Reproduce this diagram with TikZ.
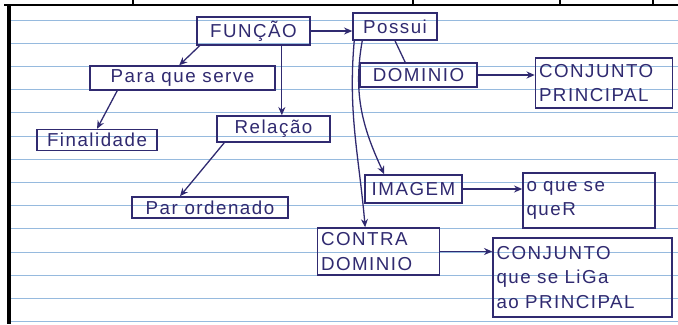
\documentclass[tikz,border=0pt]{standalone}
\usepackage{fontspec}
\setmainfont[LetterSpace=8]{Liberation Sans}
\usetikzlibrary{arrows.meta}
\definecolor{ink}{RGB}{48,42,112}
\definecolor{rule}{RGB}{150,186,222}
\tikzset{
    box/.style={draw=ink, text=ink, line width=1.3pt, inner sep=3pt,
                align=center, font=\fontsize{16}{21}\selectfont},
    tall/.style={box, align=left},
    flow/.style={-{Stealth[length=7pt, width=6pt]}, draw=ink, line width=1.1pt},
    link/.style={draw=ink, line width=1.1pt},
    paper/.style={draw=rule, line width=0.6pt},
}

\begin{document}
\begin{tikzpicture}[x=0.03cm, y=-0.03cm]

    \useasboundingbox (0,0) rectangle (678,324);
    \fill[white] (0,0) rectangle (678,324);
    \foreach \k in {0,...,13}
        \draw[paper] (10,20+23.2*\k) -- (678,20+23.2*\k);
    \draw[line width=2pt] (4,5) -- (678,5);
    \foreach \t in {133,413,560,653}
        \draw[line width=1.2pt] (\t,0) -- (\t,5);
    \draw[line width=3pt] (9,5) -- (9,324);

    \node[box, minimum width=3.39cm, minimum height=0.84cm] (func) at (253.5,31) {FUNÇÃO};
    \node[box, minimum width=2.52cm, minimum height=0.81cm] (possui) at (395,26.5) {Possui};
    \node[box, minimum width=5.55cm, minimum height=0.66cm] (serve) at (182.5,78) {Para que serve};
    \node[box, minimum width=3.51cm, minimum height=0.72cm] (dominio) at (418.5,75) {DOMINIO};
    \node[tall, text width=3.9cm, minimum height=1.5cm] (conjp) at (604,83) {CONJUNTO\\PRINCIPAL};
    \node[box, minimum width=3.6cm, minimum height=0.6cm] (final) at (97,140) {Finalidade};
    \node[box, minimum width=3.39cm, minimum height=0.78cm] (relacao) at (273.5,129) {Relação};
    \node[box, minimum width=4.68cm, minimum height=0.63cm] (par) at (210,207.5) {Par ordenado};
    \node[box, minimum width=2.91cm, minimum height=0.84cm] (imagem) at (413.5,189) {IMAGEM};
    \node[tall, text width=3.75cm, minimum height=1.65cm] (quer) at (589,200.5) {o que se\\queR};
    \node[tall, text width=3.45cm, minimum height=1.41cm] (contra) at (378.5,251.5) {CONTRA\\DOMINIO};
    \node[tall, text width=5.16cm, minimum height=2.37cm] (conjl) at (582.5,277.5) {CONJUNTO\\que se LiGa\\ao PRINCIPAL};

    \draw[flow] (func) -- (func -| possui.west);
    \draw[flow] ([xshift=0.1cm]func.south west) -- ([xshift=-0.1cm]serve.north);
    \draw[flow] ([xshift=0.85cm]func.south) -- ([xshift=0.85cm]func.south |- relacao.north);
    \draw[flow] ([xshift=0.84cm]serve.south west) -- (final.north);
    \draw[flow] ([xshift=0.24cm]relacao.south west) -- ([xshift=-0.9cm]par.north);
    \draw[link] (possui.south) -- ([xshift=-0.4cm]dominio.north);
    \draw[flow] ([xshift=0.3cm]possui.south west) to[out=-100, in=115] ([xshift=0.6cm]imagem.north west);
    \draw[flow] ([xshift=0.06cm]possui.south west) to[out=-95, in=95] ([xshift=-0.4cm]contra.north);
    \draw[flow] (dominio) -- (dominio -| conjp.west);
    \draw[flow] (imagem) -- (imagem -| quer.west);
    \draw[flow] (contra.east) -- (contra.east -| conjl.west);

\end{tikzpicture}
\end{document}
